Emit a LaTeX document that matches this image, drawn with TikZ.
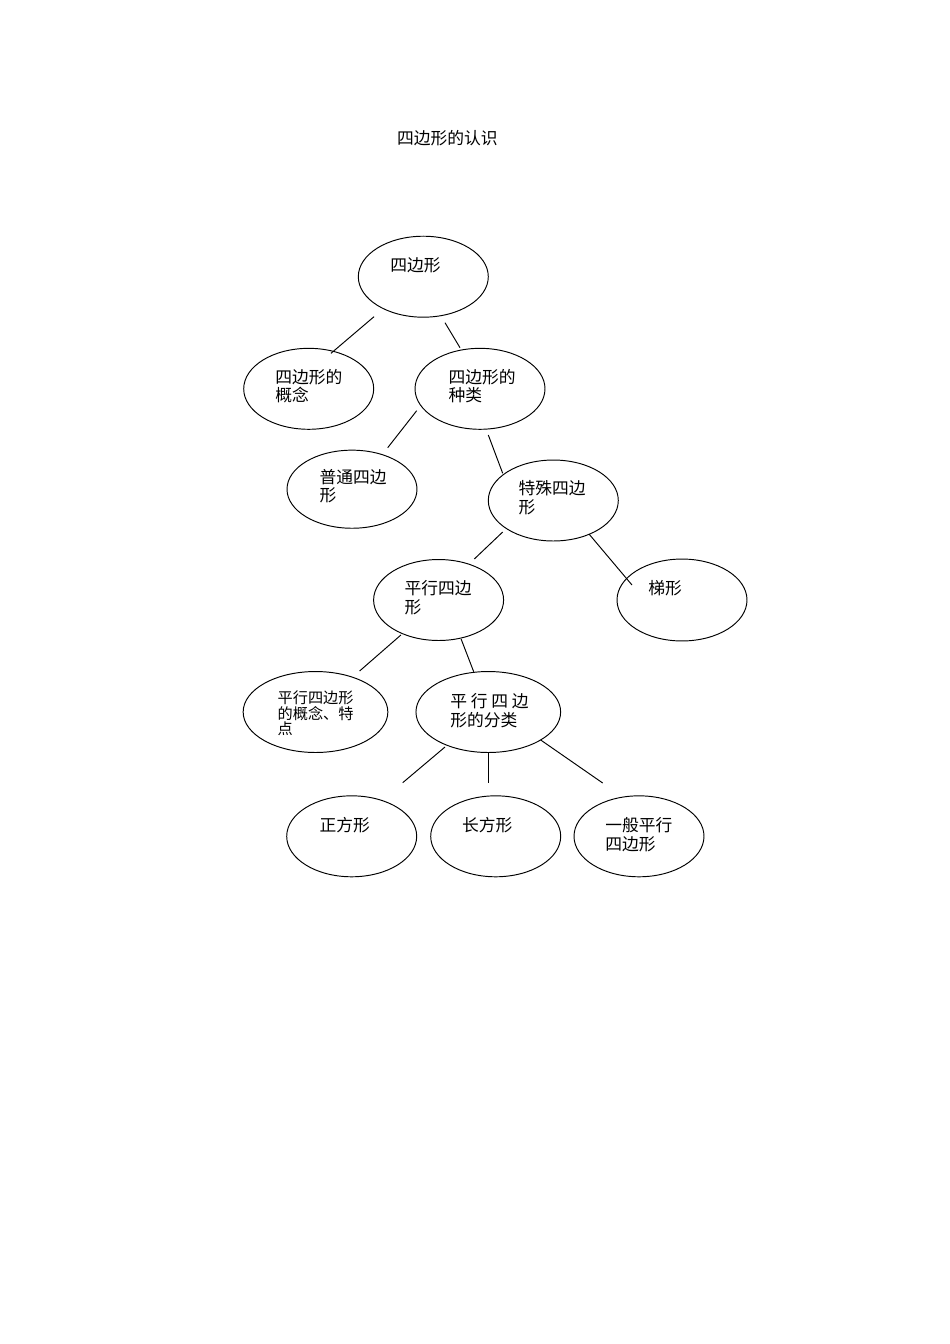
\documentclass[tikz,border=0pt]{standalone}
\usepackage{fontspec}
\usepackage{tikz}
\usetikzlibrary{positioning}
\usetikzlibrary{shapes.geometric}
\newfontfamily\cjk{Noto Sans CJK SC}
\tikzset{
    concept map/.style={
            x=0.6262pt, y=-0.6262pt,
            oval/.style={draw, ellipse, line width=0.6pt, inner sep=0pt,
                minimum width=81.4pt, minimum height=50.7pt},
            wideoval/.style={oval, minimum width=90.6pt},
            txt/.style={anchor=base west, inner sep=0pt, align=left,
                font=\cjk\fontsize{10.5}{11.5}\selectfont},
            smalltxt/.style={txt, font=\cjk\fontsize{9.5}{9.4}\selectfont},
            link/.style={line width=0.6pt}
        }
    }

\begin{document}
\begin{tikzpicture}[concept map]
    \useasboundingbox (0,0) rectangle (950,1344);

    \node [txt] (T) at (396.7,144) {四边形的认识};

    \node [oval] (Q) at (423.3,276.7) {};
    \node [oval] (QC) at (308.7,388.8) {};
    \node [oval] (QK) at (480,388.8) {};
    \node [oval, minimum height=48.9pt] (N) at (352,489.2) {};
    \node [oval] (S) at (553.3,500.5) {};
    \node [oval] (P) at (438.6,600) {};
    \node [oval, minimum height=51.3pt] (Tr) at (682,600) {};
    \node [wideoval] (PC) at (315.5,712) {};
    \node [wideoval] (PK) at (488.3,712) {};
    \node [oval] (Sq) at (351.7,836.3) {};
    \node [oval] (R) at (495.7,836.3) {};
    \node [oval] (G) at (639,836.3) {};

    % the base of a text is its last line
    \node [txt] (Q-t) at (390,271.4) {四边形};
    \node [txt] (QC-t) at (275,401.4) {四边形的\\概念};
    \node [txt] (QK-t) at (448.3,401.4) {四边形的\\种类};
    \node [txt] (N-t) at (319.3,501.4) {普通四边\\形};
    \node [txt] (S-t) at (518.3,513.1) {特殊四边\\形};
    \node [txt] (P-t) at (404.3,613.1) {平行四边\\形};
    \node [txt] (Tr-t) at (648,594.4) {梯形};
    \node [smalltxt] (PC-t) at (277.4,734) {平行四边形\\的概念、特\\点};
    \node [txt, font=\cjk\fontsize{10.5}{11.9}\selectfont] (PK-t) at (450,726.4) {平 行 四 边\\形的分类};
    \node [txt] (Sq-t) at (319.3,831.4) {正方形};
    \node [txt] (R-t) at (461.7,831.4) {长方形};
    \node [txt, font=\cjk\fontsize{10.5}{11.9}\selectfont] (G-t) at (605,850.4) {一般平行\\四边形};

    % loose ends of the links
    \coordinate (Q-QC1) at (374,316.7);   \coordinate (Q-QC2) at (331,353.3);
    \coordinate (Q-QK1) at (445,322.7);   \coordinate (Q-QK2) at (460,347.7);
    \coordinate (QK-N1) at (416.7,410.7); \coordinate (QK-N2) at (387.7,447.7);
    \coordinate (QK-S1) at (488.3,435);   \coordinate (QK-S2) at (502.7,473.3);
    \coordinate (S-P1) at (502.7,532);    \coordinate (S-P2) at (474.3,559);
    \coordinate (S-Tr1) at (589,534);     \coordinate (S-Tr2) at (632,585);
    \coordinate (P-PC1) at (400.9,635);   \coordinate (P-PC2) at (359.6,671);
    \coordinate (P-PK1) at (461.1,639);   \coordinate (P-PK2) at (473.7,671.7);
    \coordinate (PK-Sq1) at (445,747);    \coordinate (PK-Sq2) at (402.7,782.7);
    \coordinate (PK-R1) at (488.3,752);   \coordinate (PK-R2) at (488.3,783);
    \coordinate (PK-G1) at (540.7,740);   \coordinate (PK-G2) at (602.7,783);

    \foreach \a/\b in {Q/QC, Q/QK, QK/N, QK/S, S/P, S/Tr, P/PC, P/PK, PK/Sq, PK/R, PK/G}
        \draw [link] (\a-\b1) -- (\a-\b2);

\end{tikzpicture}
\end{document}
